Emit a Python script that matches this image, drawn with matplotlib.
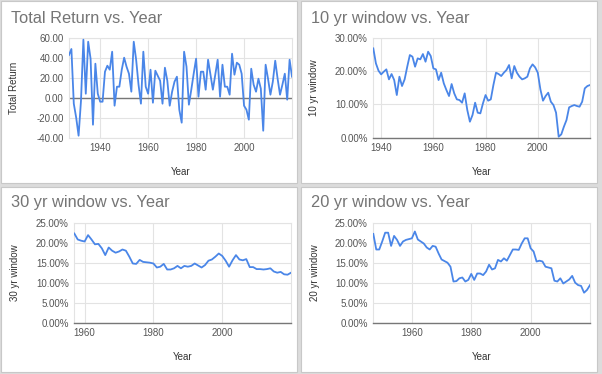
import matplotlib
matplotlib.use('Agg')
import matplotlib.pyplot as plt
from matplotlib.patches import Rectangle
from matplotlib.ticker import FuncFormatter, MultipleLocator, FixedLocator

# ---------------- data ----------------
years_total = list(range(1927, 2021))
total_return = [42.7, 48.7, -6, -20, -38, -3, 58, 4, 56, 39,
                -27, 34, 4, -4, -4, 26, 32, 28, 46, -8,
                11, 11, 28, 40, 31, 24, 6, 56, 38, 13,
                -6, 46, 11, 4, 28, -5, 27, 22, 17, -6,
                30, 17, -8, 6, 16, 21, -12, -25, 46, 31,
                -7, 8, 24, 39, 1, 26, 26, 8, 38, 23,
                8, 23, 38, 1, 33, 11, 11, 3, 44, 23,
                35, 33, 24, -8, -12, -22, 29, 13, 6, 19,
                9, -33, 33, 19, 3, 16, 37, 19, 3, 13,
                24, -2, 38, 21]

years_10 = list(range(1937, 2021))
win10 = [26.8, 22.3, 20.1, 19.0, 19.8, 20.5, 17.5, 19.1, 17.3, 12.8,
         18.3, 15.5, 17.5, 21.3, 24.8, 24.3, 21.3, 23.8, 23.5, 25.1,
         22.8, 25.8, 24.5, 20.8, 20.5, 17.3, 19.5, 16.3, 14.3, 12.5,
         16.1, 13.3, 11.5, 11.3, 10.5, 13.3, 8.3, 4.8, 6.8, 10.5,
         7.5, 7.3, 10.3, 12.8, 11.1, 11.5, 15.8, 19.5, 19.1, 18.5,
         19.5, 20.3, 21.8, 17.8, 21.5, 19.5, 18.3, 17.5, 17.8, 18.3,
         20.8, 22.0, 21.1, 19.5, 14.5, 11.1, 12.5, 13.5, 10.8, 9.8,
         7.5, 0.3, 1.0, 3.3, 5.3, 9.1, 9.5, 9.8, 9.5, 9.3,
         10.8, 14.8, 15.5, 15.8]

years_20 = list(range(1947, 2021))
win20 = [22.2, 18.3, 18.3, 20.3, 22.5, 22.5, 19.2, 21.7, 20.7, 19.2,
         20.3, 20.7, 20.9, 21.1, 22.8, 20.8, 20.3, 19.8, 18.8, 18.3,
         19.2, 19.0, 17.3, 15.8, 15.4, 15.0, 14.0, 10.3, 10.4, 11.1,
         11.3, 10.3, 10.7, 12.2, 10.7, 12.3, 12.3, 11.9, 12.8, 14.5,
         13.3, 13.6, 15.7, 15.3, 16.1, 15.5, 16.9, 18.3, 18.3, 18.2,
         19.8, 21.1, 21.1, 18.6, 17.8, 15.3, 15.5, 15.3, 14.0, 13.8,
         13.6, 10.5, 10.3, 11.1, 9.8, 10.3, 10.8, 11.7, 10.0, 9.4,
         9.2, 7.5, 8.2, 9.4]

years_30 = list(range(1957, 2021))
win30 = [22.3, 20.8, 20.5, 20.3, 21.9, 20.8, 19.6, 19.7, 18.6, 16.9,
         18.8, 18.0, 17.5, 17.8, 18.3, 18.0, 16.5, 14.8, 14.7, 15.7,
         15.2, 15.1, 15.0, 14.8, 13.8, 14.0, 14.7, 13.3, 13.3, 13.6,
         14.2, 13.6, 14.2, 14.0, 14.2, 14.8, 14.3, 13.8, 14.4, 15.5,
         15.8, 16.5, 17.3, 16.7, 15.5, 14.0, 15.6, 16.9, 15.8, 15.6,
         15.9, 13.9, 13.9, 13.4, 13.4, 13.3, 13.4, 13.6, 12.8, 12.5,
         12.7, 12.1, 12.0, 12.5]

year_ticks = [1940, 1960, 1980, 2000]

titles = ["Total Return vs. Year", "10 yr window vs. Year",
          "30 yr window vs. Year", "20 yr window vs. Year"]
ylabels = ["Total Return", "10 yr window", "30 yr window", "20 yr window"]

# ---------------- style ----------------
W, H = 602, 374
FONT = 'Liberation Sans'
LINE = '#4a86e8'
GRID = '#e3e3e3'
TICKC = '#555555'
LABC = '#333333'
TITLEC = '#757575'

fig = plt.figure(figsize=(W / 100, H / 100), dpi=100)
fig.patch.set_facecolor('#dcdcdc')


def fx(x):
    return x / W


def fy(y):
    return 1 - y / H


# cards
cards = [(1, 1, 297, 183), (301, 1, 597, 183), (1, 187, 297, 372), (301, 187, 597, 372)]
for (x0, y0, x1, y1) in cards:
    fig.patches.append(Rectangle((fx(x0), fy(y1)), fx(x1) - fx(x0), fy(y0) - fy(y1),
                                 transform=fig.transFigure, facecolor='white',
                                 edgecolor='#c8c8c8', linewidth=0.8, zorder=-5))

# axes rectangles in px: left, top, right, bottom
boxes = [(69, 37.7, 292, 137.7), (373.3, 37.7, 590, 137.7),
         (74.3, 222.7, 291, 322.7), (373.3, 222.7, 590, 322.7)]
series = [(years_total, total_return), (years_10, win10),
          (years_30, win30), (years_20, win20)]
ylims = [(-40, 60), (0, 30), (0, 25), (0, 25)]
ysteps = [20, 10, 5, 5]
title_pos = [(11, 18.5), (311, 18.5), (11, 203), (311, 203)]
ylab_x = [14, 314, 15, 315]
xlab_y = [172, 172, 357, 357]

for i in range(4):
    l, t, r, b = boxes[i]
    ax = fig.add_axes([fx(l), fy(b), fx(r) - fx(l), fy(t) - fy(b)], zorder=2)
    xs, ys = series[i]
    ax.plot(xs, ys, color=LINE, linewidth=1.3, zorder=3, solid_joinstyle='round')
    ax.set_xlim(xs[0], xs[-1])
    ax.set_ylim(*ylims[i])
    ax.yaxis.set_major_locator(MultipleLocator(ysteps[i]))
    ax.xaxis.set_major_locator(FixedLocator([v for v in year_ticks if xs[0] < v < xs[-1]]))
    if i == 0:
        ax.yaxis.set_major_formatter(FuncFormatter(lambda v, p: f"{v:.2f}"))
        ax.axhline(0, color='#777777', linewidth=1.0, zorder=2)
    else:
        ax.yaxis.set_major_formatter(FuncFormatter(lambda v, p: f"{v:.2f}%"))
    ax.grid(True, color=GRID, linewidth=0.8, zorder=0)
    ax.set_axisbelow(True)
    for s in ax.spines.values():
        s.set_color(GRID)
        s.set_linewidth(0.8)
    if i > 0:
        ax.spines['bottom'].set_color('#777777')
        ax.spines['bottom'].set_linewidth(1.0)
        ax.spines['bottom'].set_zorder(4)
    ax.tick_params(length=0, pad=4, labelsize=7, labelcolor=TICKC)
    for lab in ax.get_xticklabels() + ax.get_yticklabels():
        lab.set_fontfamily(FONT)
    ax.set_facecolor('white')

    tx, ty = title_pos[i]
    fig.text(fx(tx), fy(ty), titles[i], fontsize=11.8, color=TITLEC,
             family=FONT, ha='left', va='center', zorder=3)
    fig.text(fx(ylab_x[i]), fy((t + b) / 2), ylabels[i], fontsize=7, color=LABC,
             family=FONT, rotation=90, ha='center', va='center', zorder=3)
    fig.text(fx((l + r) / 2), fy(xlab_y[i]), "Year", fontsize=7, color=LABC,
             family=FONT, ha='center', va='center', zorder=3)

fig.savefig('out.png', dpi=100, facecolor=fig.get_facecolor())
